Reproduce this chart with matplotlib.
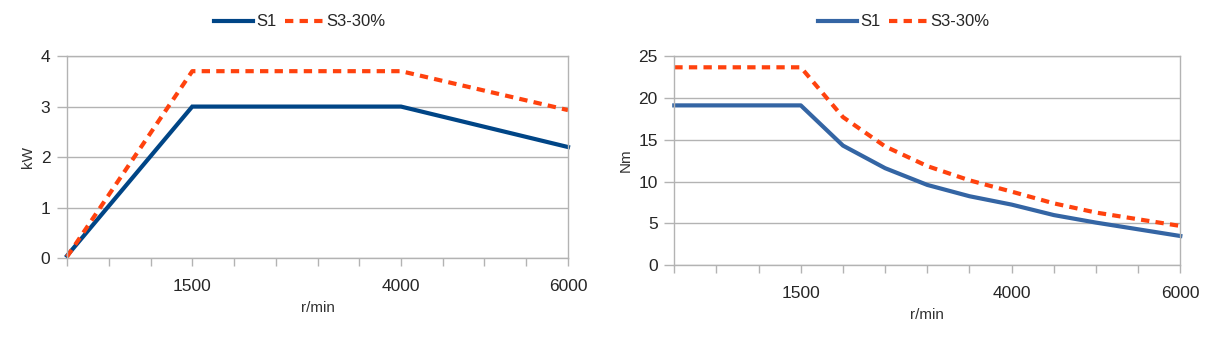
import matplotlib
matplotlib.use("Agg")
import matplotlib.pyplot as plt
from matplotlib.lines import Line2D

plt.rcParams['font.family'] = ['Liberation Sans', 'DejaVu Sans']

# ---- data ----
power_rpm = [0, 1500, 4000, 6000]
power_s1 = [0.05, 3.0, 3.0, 2.2]
power_s3 = [0.03, 3.7, 3.7, 2.93]

torque_rpm = [0, 1500, 2000, 2500, 3000, 3500, 4000, 4500, 5000, 5500, 6000]
torque_s1 = [19.1, 19.1, 14.3, 11.6, 9.6, 8.25, 7.25, 6.0, 5.1, 4.3, 3.5]
torque_s3 = [23.65, 23.65, 17.7, 14.2, 11.85, 10.15, 8.8, 7.4, 6.3, 5.5, 4.7]

x_major = [1500, 4000, 6000]
x_minor = list(range(0, 6001, 500))
series_names = ["S1", "S3-30%"]
x_label = "r/min"

W, H = 1208, 342
fig = plt.figure(figsize=(W / 100, H / 100), dpi=100)

grid_c = '#b3b3b3'
s3_color = '#ff420e'
txt_c = '#262626'


def style_axes(ax, ymax, ystep, ylabel):
    ax.set_xlim(0, 6000)
    ax.set_ylim(0, ymax)
    ax.set_yticks(list(range(0, ymax + 1, ystep)))
    ax.set_xticks(x_major)
    ax.set_xticklabels([str(v) for v in x_major])
    ax.set_xticks(x_minor, minor=True)
    ax.tick_params(axis='x', which='both', direction='out', length=6, color=grid_c, width=1)
    ax.tick_params(axis='x', which='major', pad=9, labelsize=12.5, labelcolor=txt_c)
    ax.tick_params(axis='y', direction='out', length=7, color=grid_c, width=1, pad=5,
                   labelsize=12.5, labelcolor=txt_c)
    ax.grid(axis='y', color=grid_c, linewidth=1)
    ax.set_axisbelow(True)
    for s in ax.spines.values():
        s.set_color(grid_c)
        s.set_linewidth(1)
    ax.set_xlabel(x_label, fontsize=11, color='#333333', labelpad=5)
    ax.set_ylabel(ylabel, fontsize=11, color='#333333', labelpad=4)


def add_legend(xc, color1):
    handles = [Line2D([], [], color=color1, lw=3),
               Line2D([], [], color=s3_color, lw=3, ls=(0, (2, 1.5)))]
    fig.legend(handles, series_names, loc='center', bbox_to_anchor=(xc, 0.936),
               ncol=2, frameon=False, fontsize=12, handlelength=2.3,
               handletextpad=0.2, columnspacing=0.5, labelcolor=txt_c)


# Left: power
ax1 = fig.add_axes([67 / W, 1 - 258.3 / H, (568 - 67) / W, (258.3 - 56) / H])
c1 = '#004586'
ax1.plot(power_rpm, power_s1, color=c1, lw=3, solid_joinstyle='miter', clip_on=False)
ax1.plot(power_rpm, power_s3, color=s3_color, lw=3, ls=(0, (2, 1.5)), clip_on=False)
style_axes(ax1, 4, 1, 'kW')
add_legend(300 / W, c1)

# Right: torque
ax2 = fig.add_axes([674.3 / W, 1 - 265.3 / H, (1180.3 - 674.3) / W, (265.3 - 56) / H])
c2 = '#3465a4'
ax2.plot(torque_rpm, torque_s1, color=c2, lw=3, clip_on=False)
ax2.plot(torque_rpm, torque_s3, color=s3_color, lw=3, ls=(0, (2, 1.5)), clip_on=False)
style_axes(ax2, 25, 5, 'Nm')
add_legend(904 / W, c2)

fig.savefig('out.png', dpi=100)
